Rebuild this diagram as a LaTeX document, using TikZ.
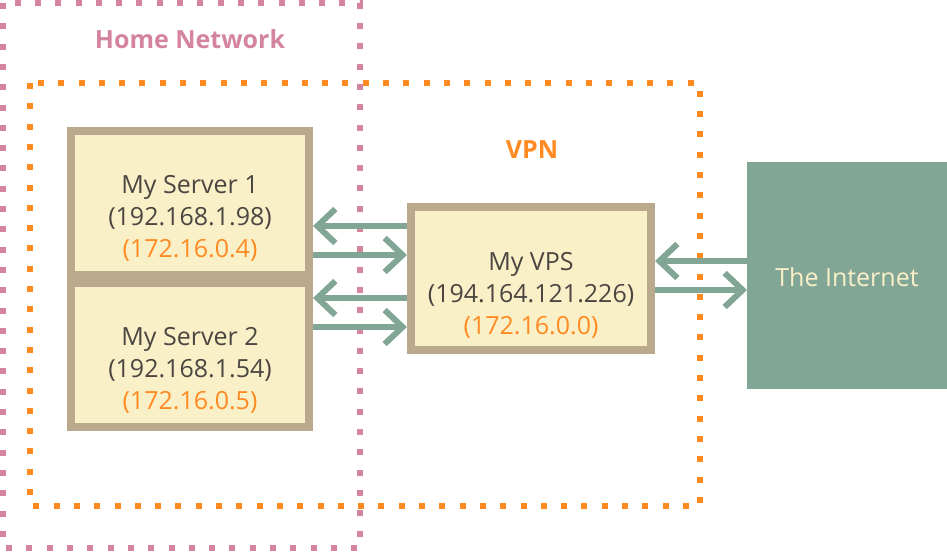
\documentclass[tikz,border=0pt]{standalone}
\usepackage{fontspec}
\setmainfont{Open Sans}
\usetikzlibrary{arrows.meta}
\definecolor{pinkc}{HTML}{D4849E}
\definecolor{orangec}{HTML}{FF8A22}
\definecolor{tanc}{HTML}{BBA98D}
\definecolor{fillc}{HTML}{FAF0C8}
\definecolor{greenc}{HTML}{82A696}
\definecolor{textc}{HTML}{4B4641}
\tikzset{
  zone/.style={line width=6pt, dash pattern=on 6pt off 14.3pt},
  server/.style={draw=tanc, fill=fillc, line width=8pt, minimum width=238pt, minimum height=144pt, inner sep=0pt},
  vps/.style={draw=tanc, fill=fillc, line width=8pt, minimum width=240pt, minimum height=143pt, inner sep=0pt},
  net/.style={fill=greenc, minimum width=200pt, minimum height=227pt, inner sep=0pt, outer sep=0pt},
  txt/.style={text=textc, align=center, font=\fontsize{25}{32}\selectfont},
  arr/.style={draw=greenc, line width=6pt, -{Straight Barb[length=18pt,width=34pt]}},
  zonelabel/.style={font=\fontsize{25}{28}\selectfont\bfseries}
}
\begin{document}
\begin{tikzpicture}[x=1pt,y=-1pt]
\useasboundingbox (0,0) rectangle (947,552);
\draw[zone, pinkc] (3,3) rectangle (360,548);
\draw[zone, orangec] (30,83) rectangle (700,506);
\node[zonelabel, text=pinkc] (homelbl) at (190,39) {Home Network};
\node[zonelabel, text=orangec] (vpnlbl) at (532,150) {VPN};
\node[server] (s1) at (190,203) {};
\node[server] (s2) at (190,355) {};
\node[vps] (vps) at (531,278.5) {};
\node[net] (net) at (847,275.5) {};
\node[txt] (s1t) at (190,218.5) {My Server 1\\(192.168.1.98)\\\textcolor{orangec}{(172.16.0.4)}};
\node[txt] (s2t) at (190,370.5) {My Server 2\\(192.168.1.54)\\\textcolor{orangec}{(172.16.0.5)}};
\node[txt] (vpst) at (531,295.5) {My VPS\\(194.164.121.226)\\\textcolor{orangec}{(172.16.0.0)}};
\node[txt, text=fillc] (nett) at (847,277) {The Internet};
\draw[arr] (vps.west |- 0,226) -- (s1.east |- 0,226);
\draw[arr] (s1.east |- 0,255) -- (vps.west |- 0,255);
\draw[arr] (vps.west |- 0,298) -- (s2.east |- 0,298);
\draw[arr] (s2.east |- 0,327) -- (vps.west |- 0,327);
\draw[arr] (net.west |- 0,261) -- (vps.east |- 0,261);
\draw[arr] (vps.east |- 0,290) -- (net.west |- 0,290);
\end{tikzpicture}
\end{document}
